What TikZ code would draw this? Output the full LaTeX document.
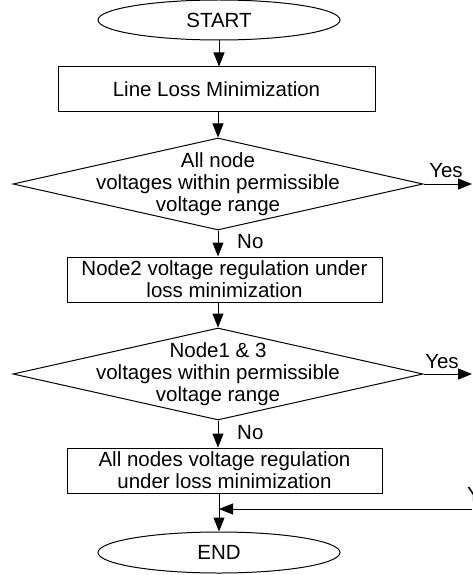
\documentclass[tikz,border=0pt]{standalone}
\usepackage{fontspec}
\setmainfont{Liberation Sans}
\usetikzlibrary{shapes.geometric,arrows.meta}

\begin{document}
\begin{tikzpicture}[x=1pt,y=1pt,
  every node/.style={font=\fontsize{20.5}{22}\selectfont},
  flow/.style={draw, line width=1pt},
  terminal/.style={flow, ellipse, minimum width=242pt, minimum height=40pt, inner sep=0pt},
  process/.style={flow, rectangle, minimum height=45pt, inner sep=0pt, align=center},
  decision/.style={flow, diamond, minimum width=410pt, minimum height=92pt, inner sep=0pt},
  dtext/.style={align=center, inner sep=0pt},
  arr/.style={line width=1pt, -{Triangle[length=14pt,width=11pt]}},
  lbl/.style={inner sep=0pt}
]
\useasboundingbox (0,0) rectangle (472,-575);

% terminals, process boxes and decisions
\node[terminal] (start) at (219,-20) {START};
\node[process, minimum width=317pt] (loss) at (216.5,-89.5) {Line Loss Minimization};
\node[decision] (d1) at (218,-184) {};
\node[dtext] (d1t) at (d1.center) {All node\\voltages within permissible\\voltage range};
\node[process, minimum width=315pt] (reg2) at (224.5,-279.5) {Node2 voltage regulation under\\loss minimization};
\node[decision] (d2) at (218,-374) {};
\node[dtext] (d2t) at (d2.center) {Node1 \& 3\\voltages within permissible\\voltage range};
\node[process, minimum width=315pt] (regall) at (224.5,-470.5) {All nodes voltage regulation\\under loss minimization};
\node[terminal, minimum height=41pt] (stop) at (219,-552.5) {END};

% free ends at the right border
\coordinate (out1) at (472,-184);
\coordinate (out2) at (472,-374);
\coordinate (in3) at (472,-509);
\coordinate (join) at (219,-509);

% main flow
\draw[arr] (start) -- (start.south |- loss.north);
\draw[arr] (loss.south -| d1.north) -- (d1.north);
\draw[arr] (d1.south) -- (d1.south |- reg2.north);
\draw[arr] (reg2.south -| d2.north) -- (d2.north);
\draw[arr] (d2.south) -- (d2.south |- regall.north);
\draw[arr] (regall.south -| stop.north) -- (stop.north);

% branches
\draw[arr] (d1.east) -- (out1);
\draw[arr] (d2.east) -- (out2);
\draw[arr] (in3) -- (join);

% labels
\node[lbl, anchor=center] (yes1) at (446,-171) {Yes};
\node[lbl, anchor=center] (yes2) at (442,-362) {Yes};
\node[lbl, anchor=west] (yes3) at (467,-495) {Yes};
\node[lbl, anchor=west] (no1) at (237,-242) {No};
\node[lbl, anchor=west] (no2) at (237,-433) {No};
\end{tikzpicture}
\end{document}
